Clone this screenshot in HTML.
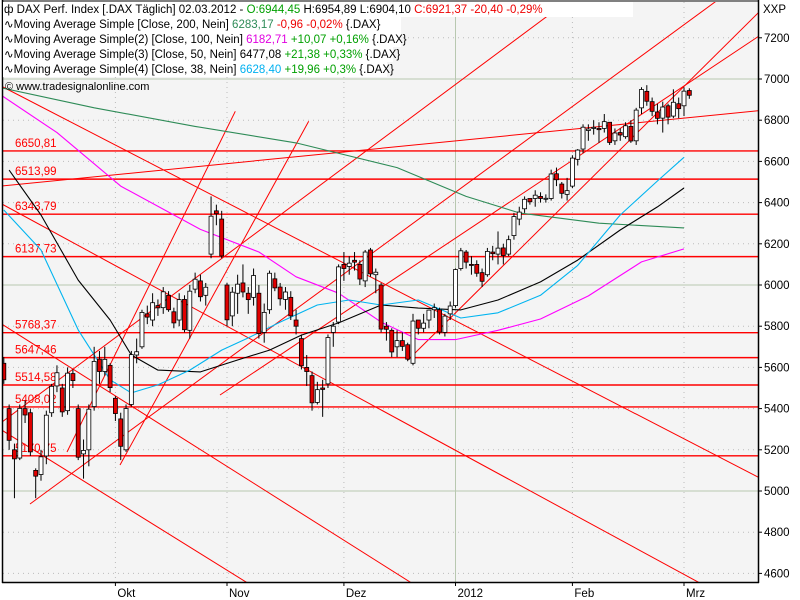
<!DOCTYPE html>
<html><head><meta charset="utf-8"><style>
html,body{margin:0;padding:0;background:#fff}
svg{display:block;font-family:"Liberation Sans",sans-serif}
</style></head><body>
<svg id="chart" width="800" height="600" viewBox="0 0 800 600">
<defs><clipPath id="pc"><rect x="3" y="2" width="755" height="580"/></clipPath></defs>
<rect x="0" y="0" width="800" height="600" fill="#fff"/>
<rect x="3" y="2" width="755" height="580" fill="#f4f4f4"/>
<g id="grid"></g>
<g id="levels" clip-path="url(#pc)"></g>
<g id="trend" clip-path="url(#pc)"></g>
<g id="mas" clip-path="url(#pc)"></g>
<g id="candles" clip-path="url(#pc)"></g>
<g id="axes"></g>
<g id="legend" font-size="11.5">
  <rect x="3" y="2" width="630" height="15" fill="#fff"/>
  <rect x="3" y="17" width="398" height="15" fill="#fff"/>
  <rect x="3" y="32" width="398" height="15" fill="#fff"/>
  <rect x="3" y="47" width="390" height="15" fill="#fff"/>
  <rect x="3" y="62" width="384" height="15" fill="#fff"/>
  <text x="4" y="13">ф DAX Perf. Index [.DAX  Täglich] 02.03.2012 - <tspan fill="#00a000">O:6944,45</tspan> H:6954,89 L:6904,10 <tspan fill="#e00">C:6921,37 -20,40 -0,29%</tspan></text>
  <text x="4" y="28">∿Moving Average Simple [Close, 200, Nein] <tspan fill="#2e8b57">6283,17</tspan> <tspan fill="#e00">-0,96 -0,02%</tspan> {.DAX}</text>
  <text x="4" y="43">∿Moving Average Simple(2) [Close, 100, Nein] <tspan fill="#e000e0">6182,71</tspan> <tspan fill="#00a000">+10,07 +0,16%</tspan> {.DAX}</text>
  <text x="4" y="58">∿Moving Average Simple(3) [Close, 50, Nein] 6477,08 <tspan fill="#00a000">+21,38 +0,33%</tspan> {.DAX}</text>
  <text x="4" y="73">∿Moving Average Simple(4) [Close, 38, Nein] <tspan fill="#00b0f0">6628,40</tspan> <tspan fill="#00a000">+19,96 +0,3%</tspan> {.DAX}</text>
  <text x="5" y="90" font-size="11">© www.tradesignalonline.com</text>
</g>
</svg>
<script>
const NS="http://www.w3.org/2000/svg";
const yTicks=[7200,7000,6800,6600,6400,6200,6000,5800,5600,5400,5200,5000,4800,4600];
const monthLabels=["Okt","Nov","Dez","2012","Feb","Mrz"];
const monthIdx=[22,43,65,86,108,129];
const levelValues=[6650.81,6513.99,6343.79,6137.73,5768.37,5647.46,5514.58,5408.02,5170.75];
const levelLabels=["6650,81","6513,99","6343,79","6137,73","5768,37","5647,46","5514,58","5408,02","5170,75"];
const closes=[5540,5246,5156,5401,5369,5190,5072,5166,5368,5508,5574,5384,5572,5536,5164,5197,5397,5629,5580,5639,5502,
5376,5217,5400,5662,5676,5867,5844,5914,5889,5967,5880,5816,5929,5783,5970,6028,5943,5989,6334,6346,6141,
5831,5965,6004,5966,5929,6046,5764,5867,6057,5986,5933,5966,5850,5800,5608,5580,5428,5492,5493,5745,5800,6088,
6080,6106,6111,6029,6160,6054,6062,5786,5785,5675,5730,5702,5640,5825,5790,5815,5878,5890,5771,5849,5898,
6075,6166,6111,6095,6057,6018,6163,6152,6179,6143,6220,6332,6354,6416,6404,6436,6420,6421,6539,6511,6445,6458,
6616,6655,6766,6757,6765,6754,6793,6692,6738,6728,6773,6699,6849,6949,6892,6843,6809,6864,6815,6887,6856,
6941,6921];
const opens=[5620,5400,5200,5160,5400,5380,5100,5080,5170,5380,5510,5500,5390,5570,5400,5180,5200,5410,5640,5580,5610,
5450,5350,5200,5420,5660,5700,5860,5830,5900,5890,5950,5870,5830,5930,5780,5980,6020,5950,6150,6360,6320,
6000,5850,5960,6010,5960,5940,5960,5770,5880,6030,5990,5930,5940,5830,5740,5600,5560,5430,5500,5520,5770,5820,
6100,6090,6120,6100,6020,6170,6050,6000,5800,5780,5700,5730,5710,5620,5830,5790,5830,5880,5880,5770,5860,
5900,6080,6160,6100,6100,6060,6050,6160,6150,6180,6150,6240,6320,6370,6420,6420,6430,6420,6420,6540,6490,6440,
6480,6610,6660,6750,6760,6760,6760,6790,6700,6740,6720,6770,6700,6860,6940,6890,6840,6810,6870,6820,6880,
6870,6944];
const highs=[5650,5420,5230,5420,5440,5400,5110,5200,5390,5520,5610,5520,5600,5590,5420,5250,5420,5700,5680,5700,5620,
5460,5380,5420,5680,5740,5880,5900,5960,5930,5990,5970,5890,5960,5950,6000,6060,6050,6010,6430,6390,6360,
6010,5990,6050,6100,5990,6080,6000,5910,6070,6060,6010,5990,5970,5880,5760,5660,5580,5530,5540,5760,5820,6100,
6160,6140,6160,6120,6170,6180,6080,6010,5820,5790,5780,5770,5720,5860,5830,5860,5880,5910,5890,5860,5920,
6080,6180,6170,6140,6120,6080,6180,6190,6260,6200,6240,6350,6380,6430,6420,6460,6450,6440,6560,6570,6500,6520,
6630,6660,6780,6780,6800,6790,6830,6780,6760,6760,6790,6800,6860,6960,6970,6910,6880,6890,6880,6950,6910,
6960,6955];
const lows=[5520,5200,4965,5150,5330,5170,4965,5050,5130,5360,5480,5360,5370,5500,5150,5060,5120,5390,5520,5560,5480,
5340,5150,5190,5410,5620,5690,5810,5800,5850,5860,5870,5790,5800,5770,5740,5960,5920,5900,6130,6290,6130,
5800,5800,5860,5940,5860,5900,5740,5720,5860,5970,5900,5880,5830,5760,5590,5510,5390,5420,5360,5500,5700,5810,
6020,6050,6070,6000,5990,6040,5960,5770,5730,5650,5650,5680,5630,5610,5760,5770,5790,5840,5760,5750,5830,
5890,6070,6080,6050,6040,5990,6040,6120,6100,6100,6140,6220,6290,6350,6390,6380,6400,6400,6410,6480,6420,6410,
6470,6580,6640,6700,6730,6690,6740,6680,6680,6700,6710,6690,6680,6830,6870,6820,6780,6740,6780,6810,6810,
6820,6904];
/* moving averages: [barIndex, value] */
const ma200Idx=[0,18,37,56,75,88,98,113,129];
const ma200Val=[6960,6860,6770,6690,6570,6430,6350,6300,6277];
const ma100Idx=[0,11,23,38,49,56,64,72,79,86,94,102,111,121,129];
const ma100Val=[6930,6740,6480,6270,6160,6040,5960,5820,5735,5735,5780,5835,5947,6112,6175];
const ma50Idx=[2,8,15,21,25,30,38,45,51,57,64,72,79,87,94,102,109,117,124,129];
const ma50Val=[6558,6340,6024,5830,5660,5587,5578,5636,5684,5757,5816,5903,5888,5879,5927,6015,6121,6267,6379,6471];
const ma38Idx=[1,8,15,21,25,30,36,42,47,53,60,66,72,79,87,94,102,109,117,124,129];
const ma38Val=[6364,6170,5782,5540,5476,5515,5587,5684,5743,5820,5903,5927,5903,5927,5840,5865,5950,6095,6340,6505,6620];
/* trendlines as pixel anchor pairs (drawn objects) */
const trendLines=[[3,87,756,476],[0,203,698,582],[0,323,410,582],[0,429,246,582],[30,504,715,2],[220,395,756,38],[408,360,756,15],[2,422,569,0],[67,452,232,118],[120,465,305,128],[2,186,756,111]];

function y(v){return 79+(7000-v)*0.206;}
function x(i){return -1.5+i*5.314;}
function mk(tag,attrs,parent){const e=document.createElementNS(NS,tag);for(const k in attrs)e.setAttribute(k,attrs[k]);parent.appendChild(e);return e;}
const grid=document.getElementById('grid'),axes=document.getElementById('axes');
yTicks.forEach(v=>{
  const yy=y(v);const major=(v%1000===0);
  const l=mk('line',{x1:3,x2:758,y1:yy,y2:yy,stroke:major?'#b8c8b0':'#bbb','stroke-width':1,'stroke-dasharray':major?'none':'1,4'},grid);
  
  
  mk('line',{x1:758,x2:762,y1:yy,y2:yy,stroke:'#000'},axes);
  const t=mk('text',{x:764,y:yy+4,'font-size':11.5},axes);t.textContent=String(v);
  
  
});
monthLabels.forEach((m,k)=>{
  const xx=x(monthIdx[k]);const yr=(m==='2012');
  const l=mk('line',{x1:xx,x2:xx,y1:2,y2:582,stroke:yr?'#b8c8b0':'#bbb','stroke-dasharray':yr?'none':'1,4'},grid);
  
  
  mk('line',{x1:xx,x2:xx,y1:582,y2:586,stroke:'#000'},axes);
  const t=mk('text',{x:xx+2,y:597,'font-size':11.5},axes);t.textContent=m;
  
  
});
mk('line',{x1:2.5,x2:2.5,y1:0,y2:583,stroke:'#000','stroke-width':1.5},axes);
mk('line',{x1:2,x2:759,y1:582.5,y2:582.5,stroke:'#000','stroke-width':1.5},axes);
mk('line',{x1:758.5,x2:758.5,y1:0,y2:583,stroke:'#000','stroke-width':1.5},axes);
mk('line',{x1:2,x2:759,y1:1,y2:1,stroke:'#000','stroke-width':1},axes);
const xxp=mk('text',{x:763,y:13,'font-size':11.5},axes);xxp.textContent='XXP';



const lv=document.getElementById('levels');
levelValues.forEach((v,k)=>{
  const l=mk('line',{x1:3,x2:758,y1:y(v),y2:y(v),stroke:'#f00','stroke-width':1.4},lv);
  
  
  const t=mk('text',{x:15,y:y(v)-4,'font-size':11.5,fill:'#f00'},lv);t.textContent=levelLabels[k];
  
  
});
const tr=document.getElementById('trend');
trendLines.forEach((p,k)=>{
  const dx=p[2]-p[0],dy=p[3]-p[1];
  const l=mk('line',{x1:p[0],y1:p[1],x2:p[2]+dx*0.02,y2:p[3]+dy*0.02,stroke:'#f00','stroke-width':1},tr);
  
  
});
const mg=document.getElementById('mas');
function maLine(idx,val,color,name){
  const pts=idx.map((i,k)=>x(i).toFixed(1)+','+y(val[k]).toFixed(1)).join(' ');
  const p=mk('polyline',{points:pts,fill:'none',stroke:color,'stroke-width':1.1,'stroke-linejoin':'round'},mg);
  
  
}
maLine(ma200Idx,ma200Val,'#2e8b57','ma200-line');
maLine(ma100Idx,ma100Val,'#ff00ff','ma100-line');
maLine(ma50Idx,ma50Val,'#000','ma50-line');
maLine(ma38Idx,ma38Val,'#00b4f0','ma38-line');
const cg=document.getElementById('candles');
closes.forEach((c,k)=>{
  const i=k+1,xx=x(i),o=opens[k];
  const g=mk('g',{},cg);
  
  
  mk('line',{x1:xx,x2:xx,y1:y(highs[k]),y2:y(lows[k]),stroke:'#000','stroke-width':1},g);
  const top=y(Math.max(o,c)),bot=y(Math.min(o,c));
  mk('rect',{x:xx-2,y:top,width:4,height:Math.max(1,bot-top),fill:c>=o?'#fff':'#e00000',stroke:'#000','stroke-width':0.8},g);
});
</script>
</body></html>
